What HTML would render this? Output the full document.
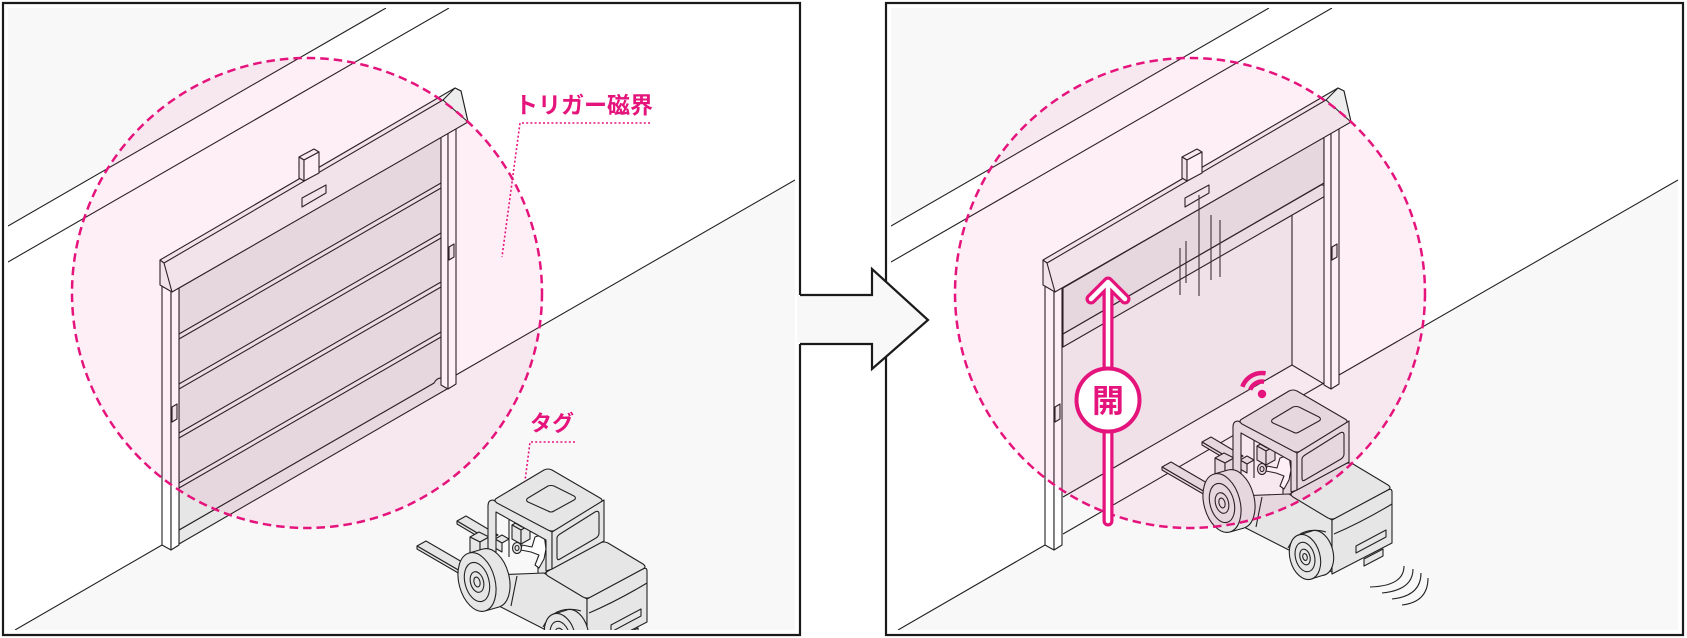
<!DOCTYPE html>
<html><head><meta charset="utf-8">
<style>
html,body{margin:0;padding:0;background:#fff;}
svg{display:block;}
text{font-family:"Liberation Sans","Noto Sans CJK JP",sans-serif;font-weight:bold;}
</style></head><body>
<svg width="1687" height="638" viewBox="0 0 1687 638" xmlns="http://www.w3.org/2000/svg">
<defs>
 <clipPath id="cl"><rect x="8" y="8" width="787" height="622"/></clipPath>
 <clipPath id="cr"><rect x="891" y="8" width="788" height="622"/></clipPath>

 <g id="com">
  <polygon points="8,8 386,8 8,226" fill="#f8f8f8"/>
  <polygon points="15,630 795,180 795,630" fill="#f8f8f8"/>
  <g stroke="#222" stroke-width="1.1" fill="none">
   <line x1="8" y1="226" x2="386" y2="8"/>
   <line x1="8" y1="262" x2="449" y2="8"/>
   <line x1="15" y1="630" x2="162" y2="545"/>
   <line x1="456" y1="375" x2="795" y2="180"/>
  </g>
 </g>

 <g id="frame" stroke="#222" stroke-width="1.1" stroke-linejoin="round">
  <polygon points="162,286 171,291 171,550 162,545" fill="#fff"/>
  <polygon points="171,291 179,288 179,545 171,550" fill="#fff"/>
  <polygon points="172,407 177,404 177,419 172,422" fill="#f0f0f0"/>
  <polygon points="441,137 448,133 448,389 441,385" fill="#fff"/>
  <polygon points="448,133 456,128 456,384 448,389" fill="#fff"/>
  <polygon points="449,247 454,244 454,257 449,260" fill="#f0f0f0"/>
  <polygon points="160,260 455,88 461,91 468,122 172,292 160,285" fill="#f3f3f3"/>
  <polygon points="443,100 455,88 461,91 468,122" fill="#ededed"/>
  <polyline points="164,263 443,100" fill="none"/>
  <polyline points="160,260 164,263 172,292" fill="none"/>
  <polygon points="302,198 326,185 326,193 302,207" fill="#f3f3f3"/>
  <polygon points="299,157 314,149 319,152 304,160" fill="#fafafa"/>
  <polygon points="299,157 304,160 304,181 299,178" fill="#f2f2f2"/>
  <polygon points="304,160 319,152 319,173 304,181" fill="#fff"/>
 </g>

 <g id="fl" stroke="#222" stroke-width="1.1" stroke-linejoin="round" fill="#e6e6e6">
  <polygon points="1202,442 1211,437 1243,456 1234,461"/>
  <polygon points="1202,442 1234,461 1234,464 1202,445"/>
  <polygon points="1162,467 1171,462 1214,487 1205,492"/>
  <polygon points="1162,467 1205,492 1205,495 1162,470"/>
  <polygon points="1215,458 1224,453 1234,458 1225,463"/>
  <polygon points="1215,458 1225,463 1225,480 1215,475"/>
  <polygon points="1225,463 1234,458 1234,475 1225,480"/>
  <line x1="1254" y1="433" x2="1254" y2="478" fill="none"/>
  <polygon points="1240,460 1247,456 1254,460 1247,464"/>
  <polygon points="1240,460 1247,464 1247,473 1240,469"/>
  <polygon points="1257,446 1266,441 1275,446 1266,451"/>
  <polygon points="1257,446 1266,451 1266,465 1257,460"/>
  <polygon points="1266,451 1275,446 1275,460 1266,465"/>
  <polygon points="1260,438 1267,434 1274,438 1267,442"/>
  <polygon points="1260,438 1267,442 1267,448 1260,444"/>
  <polygon points="1267,442 1274,438 1274,444 1267,448"/>
  <ellipse cx="1262" cy="469" rx="4.5" ry="5.5"/>
  <ellipse cx="1262" cy="469" rx="2" ry="2.5"/>
  <polygon points="1283,478 1292,473 1292,493 1283,498"/>
  <path fill="#fff" d="M1280,458 L1289,455 L1291,470 L1289,480 L1284,489 L1280,486 L1284,476 L1276,473 L1266,471 L1267,466 L1277,468 Z"/>
  <circle cx="1285" cy="451" r="3.6" fill="#fff"/>
  <polygon points="1238,496 1289,494 1332,520 1332,572 1238,524"/>
  <path fill="none" d="M1262,497 L1256,527"/>
  <path fill="none" d="M1288,548 Q1300,525 1326,532"/>
  <path d="M1293,492 L1345,464 Q1349,462 1353,464 L1388,485 Q1392,488 1388,490 L1336,518 Q1332,520 1328,518 L1293,497 Q1289,494 1293,492 Z"/>
  <path d="M1332,520 L1388,490 Q1392,488 1392,492 L1392,543 L1332,574 Z"/>
  <path fill="none" d="M1334,534 Q1362,522 1392,504"/>
  <polygon points="1356,546 1386,530 1386,537 1356,553"/>
  <polygon points="1364,559 1383,549 1383,556 1364,566"/>
  <path d="M1233,482 L1233,427 Q1233,421 1238,421 L1297,453 L1297,490 L1291,492 L1291,461 L1241,433 L1241,482 Z"/>
  <path d="M1242,419 L1289,391 Q1293,389 1297,391 L1345,419 Q1349,421 1345,424 L1301,451 Q1297,453 1293,451 L1242,424 Q1238,421 1242,419 Z"/>
  <path d="M1273,419 L1293,407 Q1296,406 1299,407 L1319,417 Q1322,419 1319,421 L1299,432 Q1296,434 1293,432 L1273,423 Q1270,421 1273,419 Z"/>
  <polygon points="1297,453 1349,421 1349,462 1297,490"/>
  <path d="M1305,455 L1340,433 Q1344,431 1344,435 L1344,454 Q1344,457 1341,459 L1305,480 Q1302,482 1302,478 L1302,459 Q1302,457 1305,455 Z"/>
  <ellipse cx="1318" cy="553" rx="15" ry="23" transform="rotate(-15 1318 553)"/>
  <polygon stroke="none" points="1299,535 1312,531 1324,575 1311,579"/>
  <line x1="1299" y1="535" x2="1312" y2="531"/>
  <line x1="1311" y1="579" x2="1324" y2="575"/>
  <ellipse cx="1305" cy="557" rx="15" ry="23" transform="rotate(-15 1305 557)"/>
  <ellipse cx="1305" cy="557" rx="9.5" ry="15" transform="rotate(-15 1305 557)"/>
  <ellipse cx="1305" cy="557" rx="5" ry="8" transform="rotate(-15 1305 557)"/>
  <ellipse cx="1305" cy="557" rx="2.2" ry="3.5" transform="rotate(-15 1305 557)"/>
  <ellipse cx="1236" cy="499" rx="18" ry="30" transform="rotate(-15 1236 499)"/>
  <polygon stroke="none" points="1214,474 1228,470 1244,528 1230,532"/>
  <line x1="1214" y1="474" x2="1228" y2="470"/>
  <line x1="1230" y1="532" x2="1244" y2="528"/>
  <ellipse cx="1222" cy="503" rx="18" ry="30" transform="rotate(-15 1222 503)"/>
  <ellipse cx="1222" cy="503" rx="12" ry="20" transform="rotate(-15 1222 503)"/>
  <ellipse cx="1222" cy="503" rx="6.5" ry="10.5" transform="rotate(-15 1222 503)"/>
  <ellipse cx="1222" cy="503" rx="3" ry="5" transform="rotate(-15 1222 503)"/>
 </g>
</defs>

<!-- LEFT PANEL -->
<g clip-path="url(#cl)">
 <use href="#com"/>
 <g stroke="#222" stroke-width="1.1" stroke-linejoin="round">
  <polygon points="179,530 441,379 447,389 179,544" fill="#e8e8e8"/>
  <polygon points="179,288 441,137 441,379 179,530" fill="#e6e6e6"/>
  <polygon points="179,334 441,183 441,188 179,339" fill="#ececec"/>
  <polygon points="179,384 441,233 441,238 179,389" fill="#ececec"/>
  <polygon points="179,433 441,282 441,287 179,438" fill="#ececec"/>
  <polygon points="179,483 441,332 441,337 179,488" fill="#ececec"/>
  <path d="M434,383 Q438,376 444,379 L447,389" fill="#e6e6e6"/>
 </g>
 <use href="#frame"/>
 <use href="#fl" transform="translate(-745,79)"/>
 <circle cx="307" cy="293" r="235" fill="rgba(235,0,115,0.065)" stroke="#e5147c" stroke-width="2.5" stroke-dasharray="8.5 5"/>
 <text x="515" y="113" font-size="23" fill="#e5147c">トリガー磁界</text>
 <path d="M650,123 L520,123 L502,257" fill="none" stroke="#e5147c" stroke-width="1.6" stroke-dasharray="2 2.2"/>
 <text x="530" y="431" font-size="22" fill="#e5147c">タグ</text>
 <path d="M575,442 L530,442 L525,481" fill="none" stroke="#e5147c" stroke-width="1.6" stroke-dasharray="2 2.2"/>
</g>

<!-- RIGHT PANEL -->
<g clip-path="url(#cr)">
 <use href="#com" transform="translate(883,0)"/>
 <g stroke="#222" stroke-width="1.1" stroke-linejoin="round">
  <polygon points="1063,346 1292,214 1292,365 1063,497" fill="#f0f0f0" stroke="none"/>
  <polygon points="1292,214 1324,196 1324,384 1292,365" fill="#f6f6f6" stroke="none"/>
  <polygon points="1063,497 1292,365 1324,384 1063,534" fill="#f8f8f8" stroke="none"/>
  <line x1="1292" y1="214" x2="1292" y2="365"/>
  <line x1="1063" y1="497" x2="1292" y2="365"/>
  <line x1="1292" y1="365" x2="1324" y2="384"/>
  <line x1="1063" y1="534" x2="1324" y2="383"/>
  <polygon points="1063,288 1324,137 1324,183 1063,334" fill="#e6e6e6"/>
  <path d="M1063,334 L1321,185 A6.5,6.5 0 0 1 1327,195 L1063,347 Z" fill="#ebebeb"/>
 </g>
 <use href="#frame" transform="translate(883,0)"/>
 <g stroke="#333" stroke-width="1.1">
  <line x1="1180" y1="248" x2="1180" y2="295"/>
  <line x1="1186" y1="241" x2="1186" y2="283"/>
  <line x1="1199" y1="195" x2="1199" y2="296"/>
  <line x1="1211" y1="215" x2="1211" y2="280"/>
  <line x1="1220" y1="220" x2="1220" y2="277"/>
 </g>
 <use href="#fl"/>
 <circle cx="1190" cy="293" r="235" fill="rgba(235,0,115,0.065)" stroke="#e5147c" stroke-width="2.5" stroke-dasharray="8.5 5"/>
 <path d="M1108,521 L1108,282 M1091,299 L1108,282 L1125,299" fill="none" stroke="#e5147c" stroke-width="11" stroke-linecap="round" stroke-linejoin="round"/>
 <path d="M1108,521 L1108,282 M1091,299 L1108,282 L1125,299" fill="none" stroke="#fff" stroke-width="4.5" stroke-linecap="round" stroke-linejoin="round"/>
 <circle cx="1108" cy="400" r="31.5" fill="#fff" stroke="#e5147c" stroke-width="4"/>
 <text x="1108" y="412" font-size="32" fill="#e5147c" text-anchor="middle">開</text>
 <circle cx="1262" cy="394" r="4.2" fill="#e5147c"/>
 <path d="M1250.3,389.7 A12.5,12.5 0 0 1 1264.2,381.7" fill="none" stroke="#e5147c" stroke-width="4.5"/>
 <path d="M1242.3,386.8 A21,21 0 0 1 1265.6,373.3" fill="none" stroke="#e5147c" stroke-width="4.5"/>
 <g fill="none" stroke="#222" stroke-width="1.1">
  <path d="M1370,587 Q1404,586 1404,566"/>
  <path d="M1382,593 Q1413,590 1413,569"/>
  <path d="M1392,599 Q1421,596 1421,573"/>
  <path d="M1402,605 Q1428,602 1428,578"/>
 </g>
</g>

<path d="M800,295 L800,3 L3,3 L3,635 L800,635 L800,344" fill="none" stroke="#1a1a1a" stroke-width="2.2"/>
<rect x="886" y="3" width="797" height="632" fill="none" stroke="#1a1a1a" stroke-width="2.2"/>
<polygon points="797,296 872,296 872,269 928,320 872,369 872,343 797,343" fill="#f8f8f8"/>
<path d="M800,295 L872,295 L872,269 L928,320 L872,369 L872,344 L800,344" fill="none" stroke="#1a1a1a" stroke-width="2.2" stroke-linejoin="miter"/>
</svg>
</body></html>
